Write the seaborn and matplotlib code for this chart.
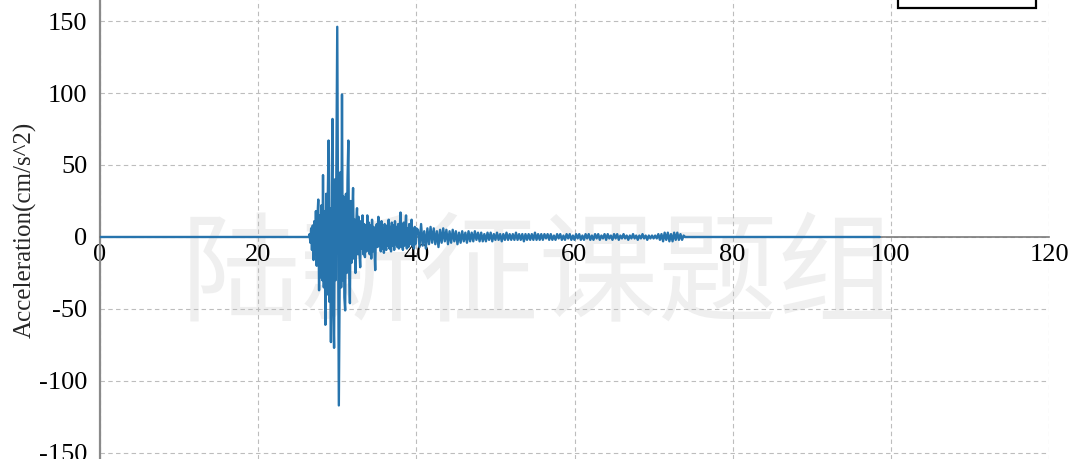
import matplotlib
matplotlib.use("Agg")
import matplotlib.pyplot as plt
import seaborn as sns
import numpy as np
import pandas as pd

# quiet part before the arrival and after the record ends
t_quiet_pre = [0.0, 26.3]
a_quiet_pre = [0.0, 0.0]
t_quiet_post = [74.2, 98.6]
a_quiet_post = [0.0, 0.0]

strong_start, strong_dt = 26.4, 0.1
a_strong = [
    0, 2, -4, 6, -9, 8, -16, 11, -12, 18,
    -20, 14, 26, -37, 15, -28, 22, -30, 43, -35,
    18, -61, 30, -40, 25, 67, -45, 20, -73, 35,
    82, -50, -77, 40, -30, 55, 146, 10, -117, -40,
    45, -35, 99, -30, 28, -42, -51, 30, -25, 40,
    67, -20, -46, 25, -18, 15, 34, -15, 12, -25,
    10, 20, -12, 14, -10, -21, 11, -8, 15, -12,
    9, -14, 8, -10, 15, -9, 10, -12, 8, -15,
    12, -10, 7, -8, -23, 6, 9, -7, 14, -6,
    8, -10, 11, -8, 6, -11, 9, -7, -9, 8,
    -6, 12, -8, 7, -10, 10, -6, 8, -9, 11,
    -5, 7, -7, 9, -8, 6, 17, -7, 8, -9,
    10, -6, 7, 15, -8, 6, -7, 9, -5, 7,
    12, -6, 5, -8, 7, -5, 6,
]

# coda, 40.2 s - 74.0 s, sampled at 0.2 s
coda_start, coda_dt = 40.2, 0.2
a_coda = [
    5, -7, 9, -6, 4, -8, 6, -5, 7, -4,
    6, -5, 4, -7, 5, -4, 6, -3, 5, -5,
    4, -4, 5, -3, 4, -5, 3, -4, 4, -3,
    3, -4, 4, -3, 3, -3, 4, -2, 3, -3,
    3, -3, 2, -3, 3, -2, 3, -3, 2, -2,
    3, -2, 2, -3, 2, -2, 3, -2, 2, -2,
    2, -2, 3, -2, 2, -2, 2, -3, 2, -2,
    2, -2, 2, -2, 3, -2, 2, -2, 2, -2,
    2, -1, 2, -2, 2, -2, 1, -2, 2, -1,
    2, -2, 1, -2, 2, -1, 2, -2, 1, -2,
    2, -1, 2, -2, 1, -2, 2, -1, 2, -2,
    1, -2, 2, -1, 2, -2, 1, -1, 2, -2,
    2, -1, 1, -2, 2, -1, 2, -2, 1, -1,
    2, -1, 1, -2, 1, -1, 2, -1, 1, -2,
    1, -1, 2, -1, 1, -2, 1, -1, 1, -1,
    1, -1, 2, -2, 2, -3, 3, -2, 3, -3,
    2, -3, 3, -2, 3, -2, 2, -2, 1, 0,
]

x_ticks = [0, 20, 40, 60, 80, 100, 120]
y_ticks = [-150, -100, -50, 0, 50, 100, 150]
watermark = "陆新征课题组"

t_strong = strong_start + strong_dt * np.arange(len(a_strong))
t_coda = coda_start + coda_dt * np.arange(len(a_coda))
df = pd.DataFrame({
    "time": np.concatenate([t_quiet_pre, t_strong, t_coda, t_quiet_post]),
    "acc": np.concatenate([a_quiet_pre, a_strong, a_coda, a_quiet_post]),
})

sns.set_theme(style="white")
plt.rcParams["font.family"] = ["Liberation Serif", "DejaVu Serif"]
plt.rcParams["axes.unicode_minus"] = False

fig = plt.figure(figsize=(10.8, 4.59), dpi=100)
ax = fig.add_axes([100 / 1080, 0, 949 / 1080, 1])

# faint watermark behind everything
ax.text(0.463, 0.395, watermark, transform=ax.transAxes, ha="center", va="center",
        fontsize=86, color="#efefef", family=["Noto Sans CJK SC"], zorder=0)

sns.lineplot(data=df, x="time", y="acc", ax=ax, estimator=None, sort=False,
             color="#2774ad", linewidth=1.7, label="Acc", zorder=3)

ax.set_xlim(0, 120)
ax.set_ylim(-154.2, 164.6)
ax.set_xticks(x_ticks)
ax.set_yticks(y_ticks)
ax.set_xlabel("")
ax.set_ylabel("Acceleration(cm/s^2)", fontsize=18, labelpad=2)

ax.grid(True, color="#bdbdbd", linestyle=(0, (4, 3)), linewidth=0.8)
ax.tick_params(axis="both", length=0, labelsize=19, colors="black")
ax.tick_params(axis="x", pad=5)
ax.tick_params(axis="y", pad=9)

ax.spines["top"].set_visible(False)
ax.spines["right"].set_visible(False)
ax.spines["bottom"].set_position(("data", 0))
ax.spines["bottom"].set_color("#7a7a7a")
ax.spines["bottom"].set_linewidth(1.2)
ax.spines["bottom"].set_zorder(2.5)
ax.spines["left"].set_color("#8a8a8a")
ax.spines["left"].set_linewidth(1.6)

leg = ax.legend(loc="lower right", bbox_to_anchor=(1036 / 1080, 1 - 8 / 459),
                bbox_transform=fig.transFigure, borderaxespad=0, borderpad=0.8,
                fancybox=False, framealpha=1, edgecolor="black", fontsize=18,
                handlelength=1.8, handletextpad=0.5)
leg.get_frame().set_linewidth(1.6)

fig.savefig("out.png", dpi=100)
